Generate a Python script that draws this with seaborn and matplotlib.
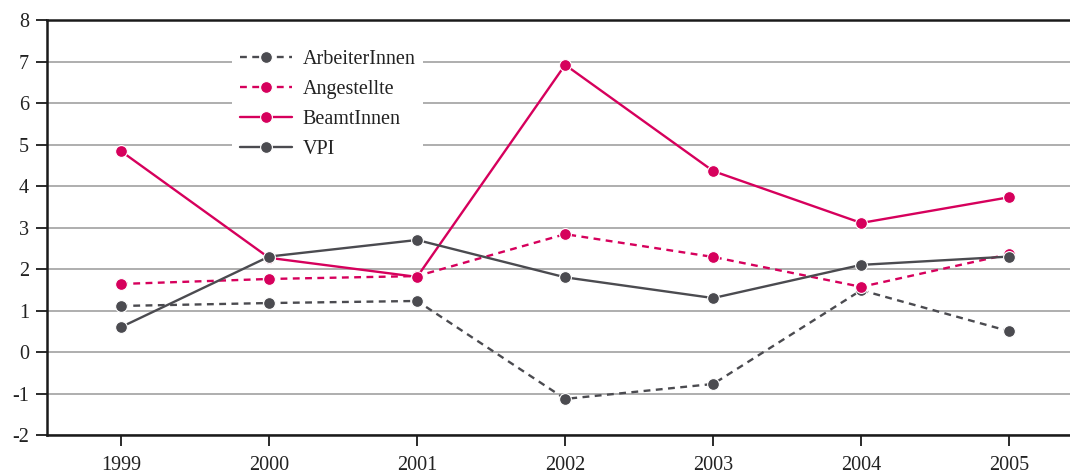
import matplotlib
matplotlib.use("Agg")
import matplotlib.pyplot as plt
import pandas as pd
import seaborn as sns

years = [1999, 2000, 2001, 2002, 2003, 2004, 2005]
arbeiter = [1.11, 1.18, 1.23, -1.13, -0.77, 1.49, 0.50]
angestellte = [1.64, 1.76, 1.83, 2.84, 2.29, 1.57, 2.36]
beamte = [4.84, 2.27, 1.81, 6.92, 4.36, 3.11, 3.73]
vpi = [0.60, 2.30, 2.70, 1.80, 1.30, 2.10, 2.30]

series_names = ["ArbeiterInnen", "Angestellte", "BeamtInnen", "VPI"]
series_values = [arbeiter, angestellte, beamte, vpi]

pink = "#d6005c"
grey = "#4b4b50"
palette = {"ArbeiterInnen": grey, "Angestellte": pink, "BeamtInnen": pink, "VPI": grey}
dashes = {"ArbeiterInnen": (2.9, 2.3), "Angestellte": (2.9, 2.3), "BeamtInnen": "", "VPI": ""}

df = pd.DataFrame({
    "year": years * len(series_names),
    "value": [v for vals in series_values for v in vals],
    "series": [n for n in series_names for _ in years],
})

sns.set_style("white")
plt.rcParams["font.family"] = ["Liberation Serif", "DejaVu Serif"]
plt.rcParams["axes.unicode_minus"] = False

fig = plt.figure(figsize=(10.7, 4.73), dpi=100)
ax = fig.add_axes([0.0439, 0.0803, 0.9561, 0.8774])

sns.lineplot(data=df, x="year", y="value", hue="series", style="series",
             hue_order=series_names, style_order=series_names,
             palette=palette, dashes=dashes, markers={n: "o" for n in series_names},
             markersize=8.5, markeredgecolor="white", markeredgewidth=0.8,
             linewidth=1.7, ax=ax)

ax.set_xlim(1998.5, 2005.41)
ax.set_ylim(-2, 8)
ax.set_xticks(years)
ax.set_yticks(range(-2, 9))
ax.yaxis.grid(True, color="#a8a8a8", linewidth=1.3)
ax.set_axisbelow(True)
ax.set_xlabel("")
ax.set_ylabel("")

for side in ["left", "bottom", "top"]:
    ax.spines[side].set_color("#1a1a1a")
    ax.spines[side].set_linewidth(1.8)
ax.spines["right"].set_visible(False)

ax.tick_params(axis="both", which="both", direction="out", length=8, width=1.3,
               color="#1a1a1a", labelsize=14.5, labelcolor="#222222",
               left=True, bottom=True)
ax.tick_params(axis="x", pad=7)
ax.tick_params(axis="y", pad=5)

leg = ax.legend(loc="upper left", bbox_to_anchor=(0.171, 0.972), frameon=True,
                facecolor="white", edgecolor="none", framealpha=1, fancybox=False,
                fontsize=14.5, labelspacing=0.55, handlelength=2.6, handletextpad=0.5,
                borderpad=0.4)
for t in leg.get_texts():
    t.set_color("#222222")

fig.savefig("out.png", dpi=100)
